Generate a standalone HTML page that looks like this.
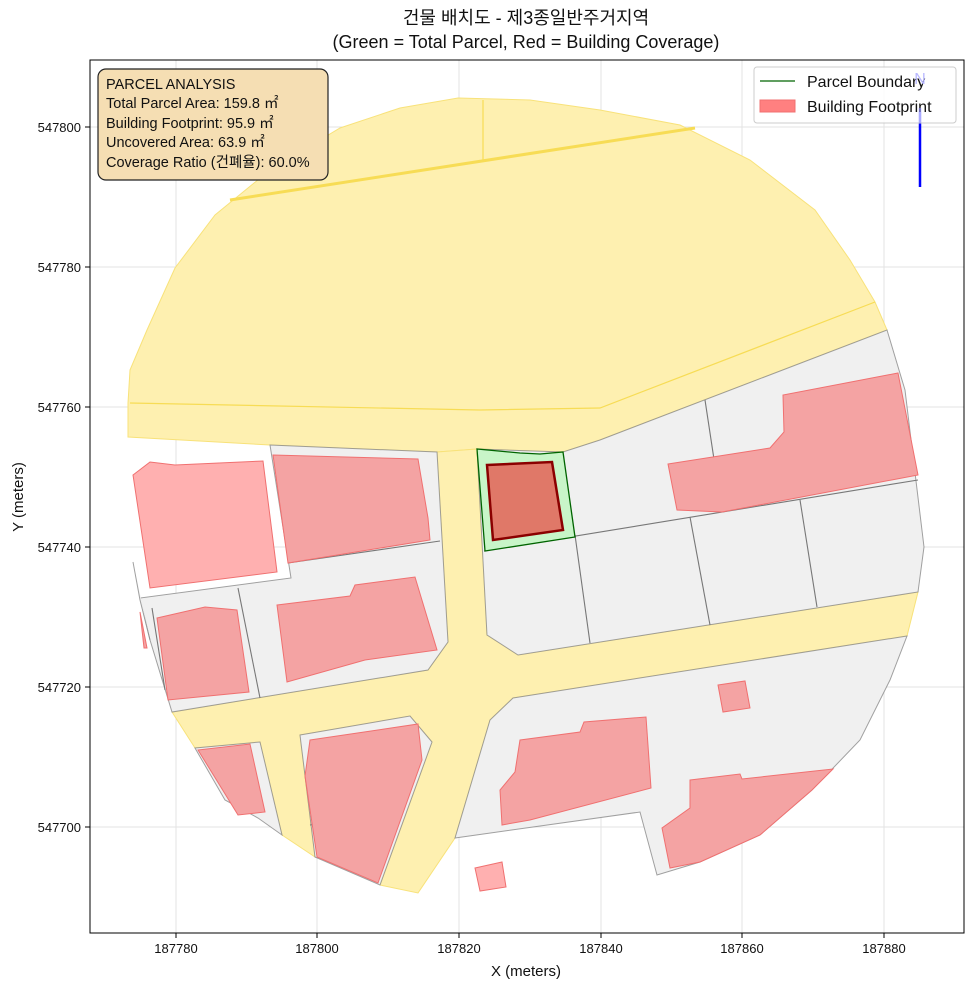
<!DOCTYPE html>
<html><head><meta charset="utf-8"><style>
body{margin:0;background:#fff;}
svg{display:block;font-family:"Liberation Sans","Noto Sans CJK KR",sans-serif;}
</style></head><body>
<svg width="973" height="990" viewBox="0 0 973 990" xmlns="http://www.w3.org/2000/svg">
<text x="526" y="24" text-anchor="middle" font-size="18" fill="#111">건물 배치도 - 제3종일반주거지역</text>
<text x="526" y="48" text-anchor="middle" font-size="18" fill="#111">(Green = Total Parcel, Red = Building Coverage)</text>
<defs><clipPath id="c"><rect x="90" y="60" width="874" height="873"/></clipPath></defs>
<g stroke="#e3e3e3" stroke-width="1">
<line x1="176" y1="60" x2="176" y2="933"/><line x1="317" y1="60" x2="317" y2="933"/><line x1="459" y1="60" x2="459" y2="933"/><line x1="601" y1="60" x2="601" y2="933"/><line x1="742" y1="60" x2="742" y2="933"/><line x1="884" y1="60" x2="884" y2="933"/>
<line x1="90" y1="127" x2="964" y2="127"/><line x1="90" y1="267" x2="964" y2="267"/><line x1="90" y1="407" x2="964" y2="407"/><line x1="90" y1="547" x2="964" y2="547"/><line x1="90" y1="687" x2="964" y2="687"/><line x1="90" y1="827" x2="964" y2="827"/>
</g>
<g clip-path="url(#c)">
<g fill="#fef0b0" stroke="#f8e27a" stroke-width="1">
<polygon points="128,437 128,403 130,370 147,330 175,268 215,215 270,170 340,128 400,108 458,98 530,100 600,110 680,125 750,160 815,210 850,260 875,302 887,330 600,440 563,452 477,449 437,452 270,445"/>
<polygon points="437,452 477,449 487,635 518,655 918,592 907,636 513,698 490,720 455,838 418,893 380,885 432,742 410,716 300,735 315,857 282,835 260,742 195,748 172,712 428,670 448,642"/>
</g>
<g stroke="#f7dc55" fill="none">
<polyline points="130,403 480,410 600,408 875,302" stroke-width="1.2"/>
<line x1="230" y1="200" x2="695" y2="128" stroke-width="3"/>
<line x1="483" y1="100" x2="483" y2="160" stroke-width="1.2"/>
</g>
<g fill="#f0f0f0" stroke="#8a8a8a" stroke-width="1" stroke-opacity="0.8">
<polygon points="477,449 563,452 600,440 887,330 905,390 924,547 918,592 518,655 487,635"/>
<polygon points="270,445 437,452 448,642 428,670 172,712 150,640 140,598 291,578"/>
<polygon points="195,748 260,742 282,835 258,818 225,800"/>
<polygon points="300,735 410,716 432,742 380,885 315,857"/>
<polygon points="513,698 907,636 890,680 860,740 812,790 760,835 700,862 657,875 640,812 455,838 490,720"/>
<polyline points="133,562 140,600 150,640"/>
</g>
<g stroke="#777" stroke-width="1.1" fill="none">
<line x1="484" y1="551" x2="918" y2="480"/>
<line x1="705" y1="400" x2="722" y2="512"/>
<line x1="690" y1="517" x2="710" y2="625"/>
<line x1="800" y1="500" x2="817" y2="607"/>
<line x1="575" y1="535" x2="590" y2="643"/>
<line x1="288" y1="563" x2="440" y2="541"/>
<line x1="238" y1="588" x2="260" y2="698"/>
<line x1="152" y1="608" x2="165" y2="690"/>
<polyline points="310,825 374,816 380,858"/>
</g>
<g fill="#f4a3a3" stroke="#f07070" stroke-width="1">
<polygon points="133,475 150,462 175,465 263,461 277,572 150,588" fill="#ffb0b0"/>
<polygon points="273,455 418,459 428,518 430,540 288,563"/>
<polygon points="277,605 350,596 355,585 415,577 437,650 365,660 287,682"/>
<polygon points="157,618 205,607 237,610 249,692 168,700"/>
<polygon points="140,612 147,648 144,648" />
<polygon points="668,464 770,448 784,432 783,395 898,373 918,475 722,512 677,510"/>
<polygon points="718,685 745,681 750,708 723,712"/>
<polygon points="520,740 580,732 584,722 646,717 651,788 530,820 502,825 500,790 515,772"/>
<polygon points="198,750 250,744 265,812 238,815"/>
<polygon points="310,740 418,724 422,760 378,883 317,857 305,776"/>
<polygon points="690,780 740,774 742,779 833,769 812,790 760,835 700,862 670,868 662,828 690,808"/>
<polygon points="475,868 502,862 506,887 480,891" fill="#ffb0b0"/>
</g>
<polygon points="477,449 485,551 575,537 563,452 540,454 520,453" fill="#c8f5c8" stroke="#006400" stroke-width="1.3"/>
<polygon points="487,465 552,462 563,530 493,540" fill="#e07868" stroke="#8b0000" stroke-width="2.5"/>
<line x1="920" y1="112" x2="920" y2="187" stroke="#0000ff" stroke-width="2.5"/>
</g>
<rect x="90" y="60" width="874" height="873" fill="none" stroke="#000" stroke-width="1"/>
<g stroke="#000"><line x1="176" y1="933" x2="176" y2="938"/><line x1="317" y1="933" x2="317" y2="938"/><line x1="459" y1="933" x2="459" y2="938"/><line x1="601" y1="933" x2="601" y2="938"/><line x1="742" y1="933" x2="742" y2="938"/><line x1="884" y1="933" x2="884" y2="938"/>
<line x1="85" y1="127" x2="90" y2="127"/><line x1="85" y1="267" x2="90" y2="267"/><line x1="85" y1="407" x2="90" y2="407"/><line x1="85" y1="547" x2="90" y2="547"/><line x1="85" y1="687" x2="90" y2="687"/><line x1="85" y1="827" x2="90" y2="827"/></g>
<g font-size="13" fill="#111" text-anchor="middle"><text x="176" y="953">187780</text><text x="317" y="953">187800</text><text x="459" y="953">187820</text><text x="601" y="953">187840</text><text x="742" y="953">187860</text><text x="884" y="953">187880</text></g>
<g font-size="13" fill="#111" text-anchor="end"><text x="81" y="132">547800</text><text x="81" y="272">547780</text><text x="81" y="412">547760</text><text x="81" y="552">547740</text><text x="81" y="692">547720</text><text x="81" y="832">547700</text></g>
<text x="526" y="976" text-anchor="middle" font-size="15" fill="#111">X (meters)</text>
<text x="23" y="497" text-anchor="middle" font-size="15" fill="#111" transform="rotate(-90 23 497)">Y (meters)</text>
<rect x="98" y="69" width="230" height="111" rx="8" fill="#f5deb3" stroke="#222" stroke-width="1.2"/>
<g font-size="14.5" fill="#111"><text x="106" y="89">PARCEL ANALYSIS</text><text x="106" y="108">Total Parcel Area: 159.8 ㎡</text><text x="106" y="128">Building Footprint: 95.9 ㎡</text><text x="106" y="147">Uncovered Area: 63.9 ㎡</text><text x="106" y="167">Coverage Ratio (건폐율): 60.0%</text></g>
<rect x="754" y="67" width="202" height="56" rx="3" fill="#fff" fill-opacity="0.85" stroke="#ccc"/>
<line x1="760" y1="81" x2="795" y2="81" stroke="#006400" stroke-width="1.3"/>
<rect x="760" y="100" width="35" height="12" fill="#ff8080" stroke="#f07070"/>
<g font-size="16" fill="#111"><text x="807" y="87">Parcel Boundary</text><text x="807" y="112">Building Footprint</text></g>
<line x1="920" y1="108" x2="920" y2="123" stroke="#8888ff" stroke-width="2.5" stroke-opacity="0.6"/>
<text x="920" y="84" text-anchor="middle" font-size="16" fill="#b8b8ff">N</text>
</svg>
</body></html>
